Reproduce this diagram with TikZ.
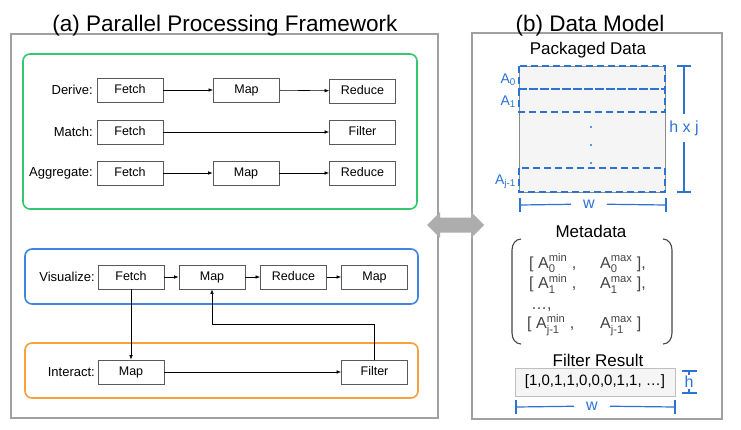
\documentclass[tikz,border=0pt]{standalone}
\usepackage{fontspec}
\setmainfont{Liberation Sans}
\usepackage{amsmath}
\usetikzlibrary{arrows.meta,calc}

\definecolor{gruen}{RGB}{52,199,110}
\definecolor{blau}{RGB}{66,133,224}
\definecolor{orangelinie}{RGB}{247,160,60}
\definecolor{massblau}{RGB}{45,115,210}
\definecolor{rahmen}{RGB}{160,160,160}
\definecolor{metagrau}{RGB}{70,70,70}

\newcommand{\Aij}[2]{$\text{A}_{\text{#1}}^{\text{#2}}$}
\newcommand{\Ai}[1]{$\text{A}_{\text{#1}}$}

\tikzset{
  box/.style={draw=black!65, line width=0.7pt, minimum width=66pt, minimum height=24pt,
    inner sep=0pt, text height=9.5pt, text depth=2.5pt, font=\fontsize{12.5}{15}\selectfont},
  lbl/.style={anchor=east, inner sep=1pt, font=\fontsize{13}{15}\selectfont},
  gruppe/.style={rounded corners=7pt, line width=1.6pt},
  pfeil/.style={-{Latex[length=4.5pt,width=3.5pt]}, line width=0.6pt},
  titel/.style={anchor=base, font=\fontsize{22.5}{26}\selectfont},
  untertitel/.style={anchor=base, font=\fontsize{17}{20}\selectfont},
  panel/.style={draw=rahmen, line width=1.2pt},
  zeile/.style={draw=massblau, line width=1.5pt, dash pattern=on 7pt off 4pt},
  mass/.style={draw=massblau, line width=1.2pt},
  masslbl/.style={text=massblau, fill=white, font=\fontsize{16}{18}\selectfont},
  alabel/.style={anchor=base east, inner sep=0pt, text=massblau, font=\fontsize{14}{16}\selectfont},
}

\begin{document}
\begin{tikzpicture}[x=1pt,y=-1pt]
  \useasboundingbox[fill=white] (0,0) rectangle (741,429);
  % Rahmen (a) und (b)
  \draw[panel] (11,34) rectangle (438,418);
  \draw[panel] (472,33) rectangle (722,419);
  \node[titel] (ta) at (225,31) {(a) Parallel Processing Framework};
  \node[titel] (tb) at (590,31) {(b) Data Model};

  % Gruppe oben
  \draw[gruppe, draw=gruen] (23,54) rectangle (417,209);
  \node[lbl] (lderive) at (94,90) {Derive:};
  \node[box] (dfetch) at (130,90) {Fetch};
  \node[box] (dmap) at (246.5,90) {Map};
  \node[box] (dreduce) at (362.5,91) {Reduce};
  \draw[pfeil] (dfetch) -- (dmap);
  \draw[pfeil] (dmap) -- (dreduce);
  \node[lbl] (lmatch) at (94,132) {Match:};
  \node[box] (mfetch) at (130,132) {Fetch};
  \node[box] (mfilter) at (362.5,132) {Filter};
  \draw[pfeil] (mfetch) -- (mfilter);
  \node[lbl] (laggr) at (94,173) {Aggregate:};
  \node[box] (afetch) at (130,173) {Fetch};
  \node[box] (amap) at (246,173) {Map};
  \node[box] (areduce) at (362.5,173) {Reduce};
  \draw[pfeil] (afetch) -- (amap);
  \draw[pfeil] (amap) -- (areduce);

  % Gruppe Visualize
  \draw[gruppe, draw=blau] (25,249) rectangle (418,304);
  \node[lbl] (lvis) at (96,277) {Visualize:};
  \node[box] (vfetch) at (131,277) {Fetch};
  \node[box] (vmap) at (212,277) {Map};
  \node[box] (vreduce) at (293.5,277) {Reduce};
  \node[box] (vmapb) at (374.5,277) {Map};
  \draw[pfeil] (vfetch) -- (vmap);
  \draw[pfeil] (vmap) -- (vreduce);
  \draw[pfeil] (vreduce) -- (vmapb);

  % Gruppe Interact
  \draw[gruppe, draw=orangelinie] (25,343) rectangle (418,398);
  \node[lbl] (lint) at (96,372) {Interact:};
  \node[box] (imap) at (131,372) {Map};
  \node[box] (ifilter) at (374.5,372) {Filter};
  \draw[pfeil] (imap) -- (ifilter);
  \draw[pfeil] (vfetch) -- (imap);
  \draw[pfeil] (ifilter.north) -- ($(ifilter.north)!0.5!(ifilter.north |- vmap.south)$) -| (vmap.south);

  % Doppelpfeil
  \fill[black!32] (427,225) -- (440,212) -- (440,217.5) -- (471,217.5) -- (471,212)
    -- (484,225) -- (471,238) -- (471,232.5) -- (440,232.5) -- (440,238) -- cycle;

  % Packaged Data
  \node[untertitel] (tpaket) at (588,54) {Packaged Data};
  \node[draw=black!45, line width=0.8pt, fill=black!4, minimum width=146pt,
    minimum height=126pt, inner sep=0pt] (paket) at (592,129) {};
  \draw[zeile] (519,66) rectangle (665,89);
  \draw[zeile] (519,89) rectangle (665,112);
  \draw[zeile] (519,168) rectangle (665,192);
  \foreach \y in {127,145,163}
    \fill[massblau] (591,\y) circle (1.1pt);
  \node[alabel] (a0) at (516,83) {\Ai{0}};
  \node[alabel] (a1) at (516,105) {\Ai{1}};
  \node[alabel] (aj) at (516,184) {\Ai{j-1}};
  % Masse h x j und w
  \node[masslbl, inner xsep=1pt, inner ysep=6pt] (hj) at (684,128) {h x j};
  \coordinate (hjo) at (684,66);
  \coordinate (hju) at (684,192);
  \draw[mass] (hjo) -- (hj);
  \draw[mass] (hj) -- (hju);
  \draw[mass] (677,66) -- (691,66);
  \draw[mass] (677,192) -- (691,192);
  \node[masslbl, inner xsep=12pt, inner ysep=1pt] (w1) at (589,204) {w};
  \coordinate (w1l) at (520,205);
  \coordinate (w1r) at (666,205);
  \draw[mass] (w1l) -- (w1);
  \draw[mass] (w1) -- (w1r);
  \draw[mass] (520,198) -- (520,212);
  \draw[mass] (666,198) -- (666,212);

  % Metadata
  \node[untertitel] (tmeta) at (591,237) {Metadata};
  \draw[metagrau, line width=1.1pt] (521,239) to[out=180,in=90] (512,250) -- (512,333)
    to[out=-90,in=180] (521,344);
  \draw[metagrau, line width=1.1pt] (663,239) to[out=0,in=90] (672,250) -- (672,333)
    to[out=-90,in=0] (663,344);
  \node[anchor=base west, inner sep=0pt, text=metagrau, font=\fontsize{16}{20}\selectfont] (meta) at (529,268)
    {\begin{tabular}[t]{@{}p{71pt}@{}l@{}}
      {[} \Aij{0}{min} , & \Aij{0}{max} ], \\
      {[} \Aij{1}{min} , & \Aij{1}{max} ], \\[1pt]
      \hspace{2pt}\dots, & \\[-2pt]
      \hspace{-2pt}{[} \Aij{j-1}{min} , & \Aij{j-1}{max} ]
    \end{tabular}};

  % Filter Result
  \node[untertitel] (tfilter) at (598,366) {Filter Result};
  \node[draw=black!25, line width=1pt, fill=black!4, minimum width=160pt, minimum height=28pt,
    inner sep=0pt, font=\fontsize{15}{18}\selectfont] (fres) at (595,382) {[1,0,1,1,0,0,0,1,1, \dots]};
  \node[masslbl, inner sep=1pt] (h) at (689,382) {h};
  \coordinate (ho) at (689,371);
  \coordinate (hu) at (689,393);
  \draw[mass] (ho) -- (h);
  \draw[mass] (h) -- (hu);
  \draw[mass] (682,371) -- (697,371);
  \draw[mass] (682,393) -- (697,393);
  \node[masslbl, inner xsep=12pt, inner ysep=1pt] (w2) at (592,406) {w};
  \coordinate (w2l) at (516,407);
  \coordinate (w2r) at (675,407);
  \draw[mass] (w2l) -- (w2);
  \draw[mass] (w2) -- (w2r);
  \draw[mass] (516,400) -- (516,414);
  \draw[mass] (675,400) -- (675,414);
\end{tikzpicture}
\end{document}
